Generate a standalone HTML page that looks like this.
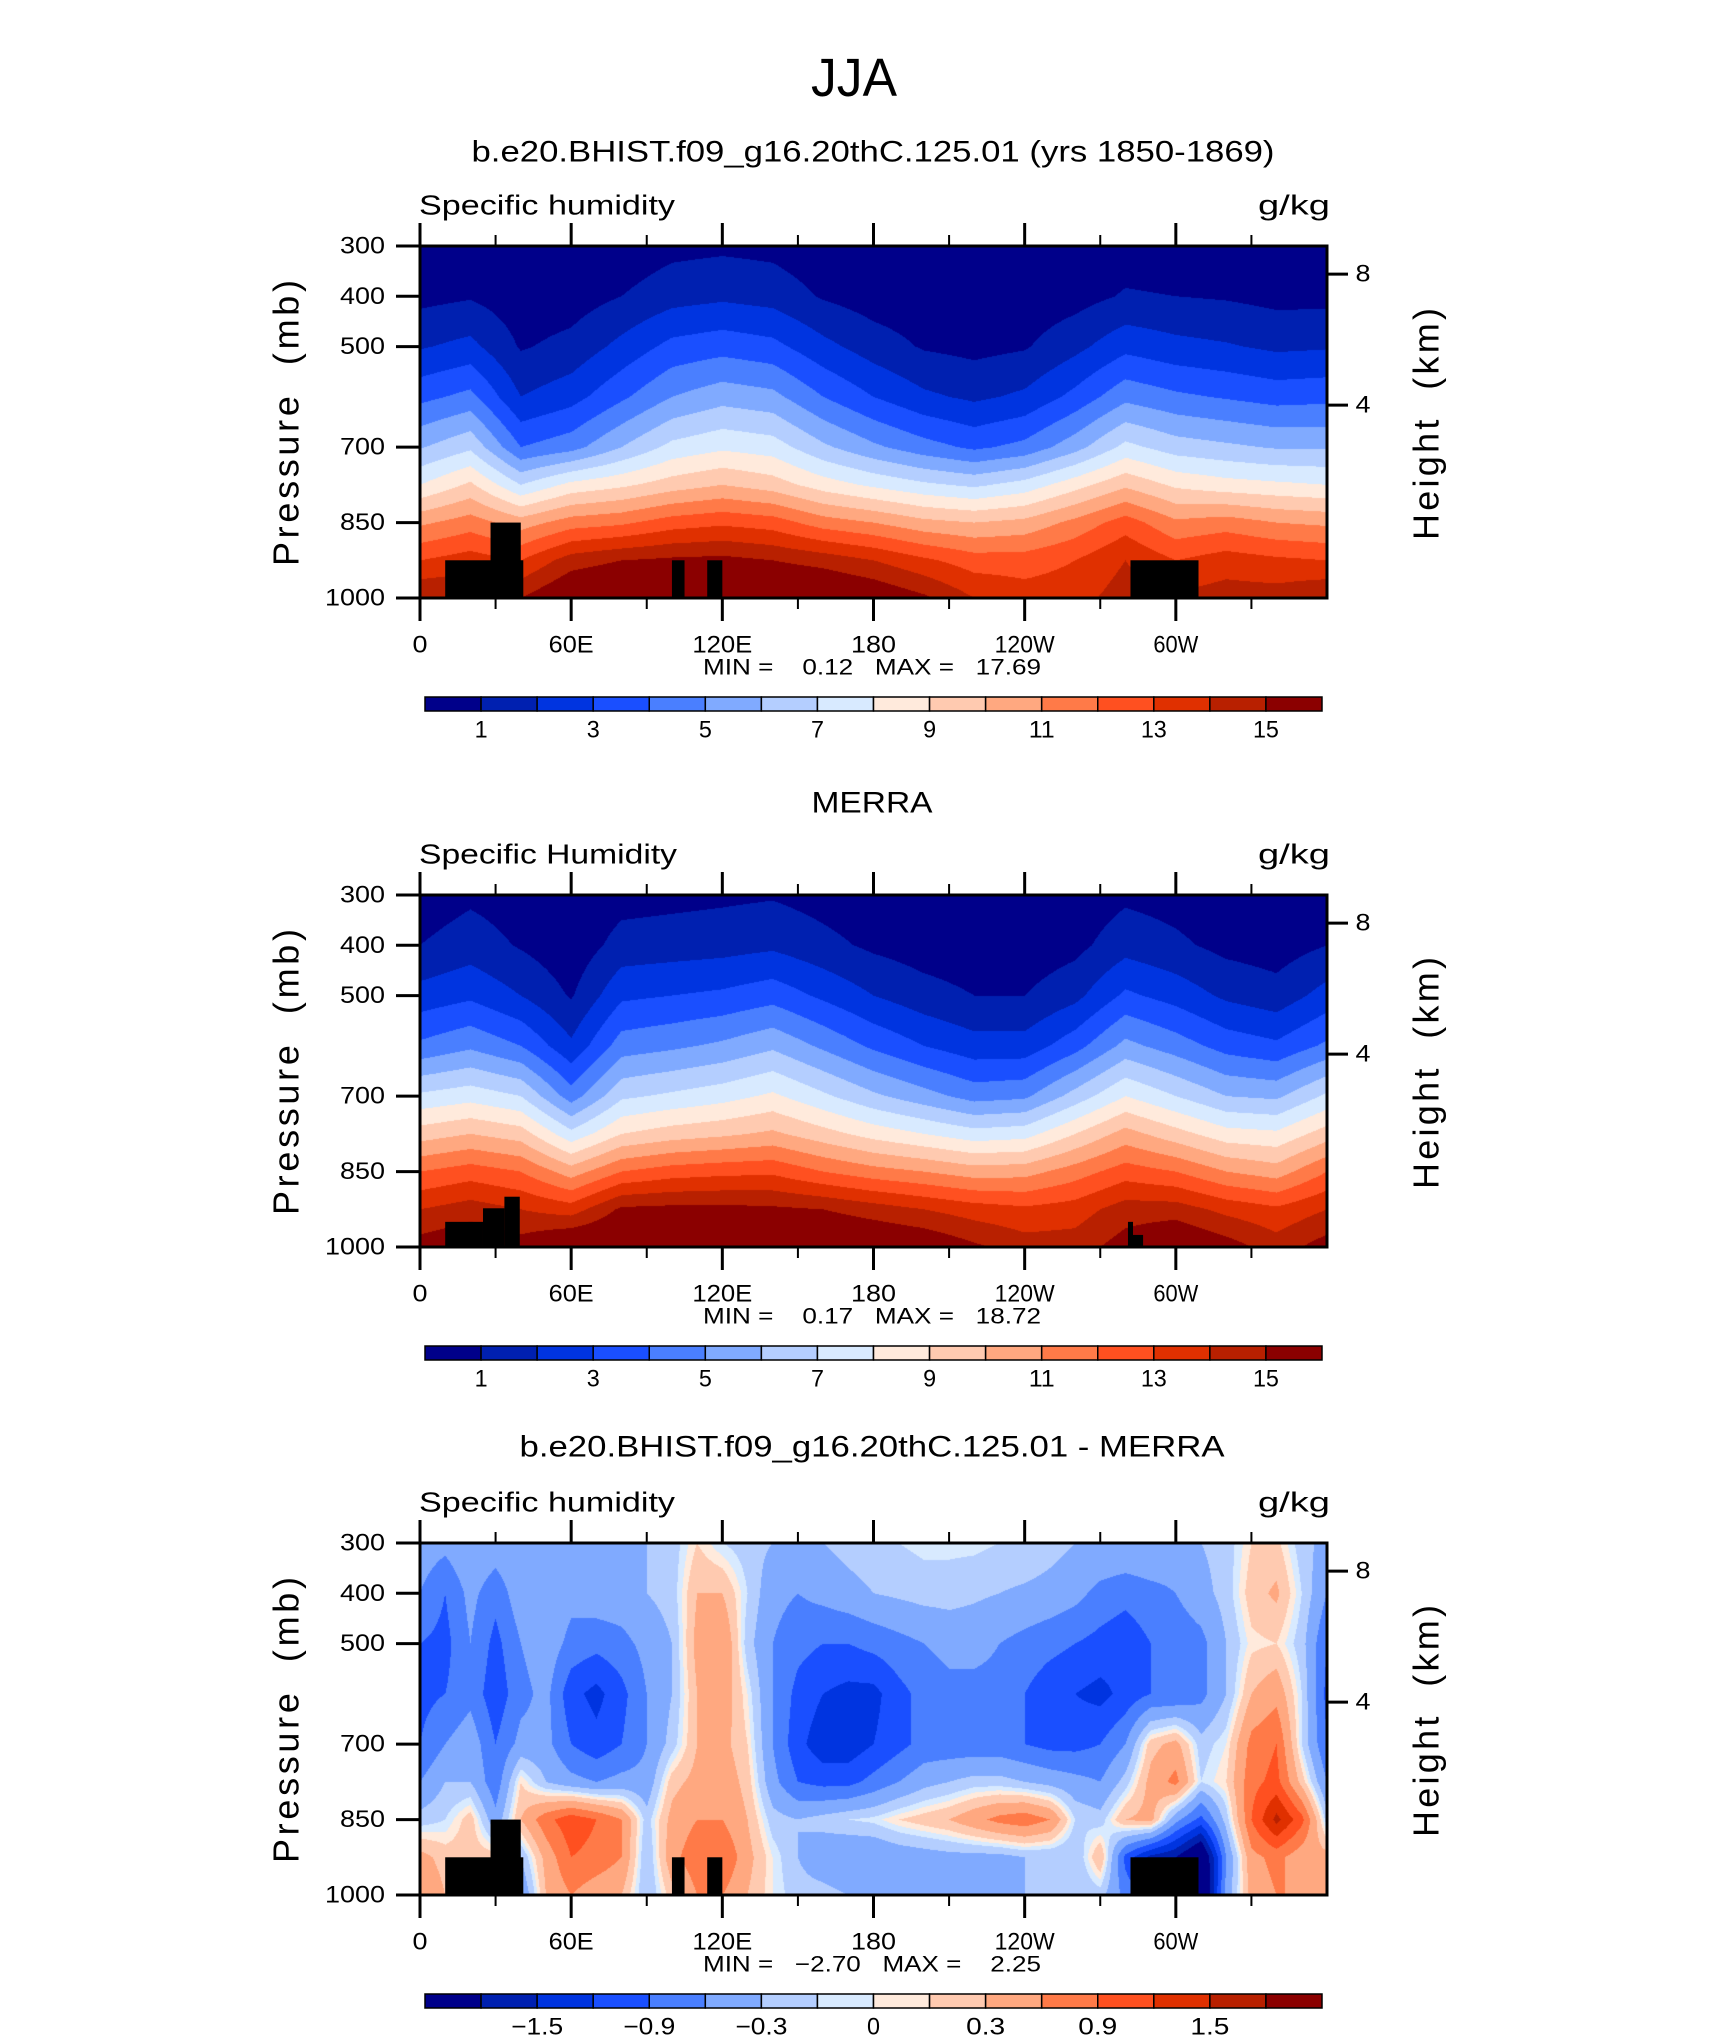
<!DOCTYPE html>
<html><head><meta charset="utf-8"><title>JJA Specific humidity</title>
<style>
html,body{margin:0;padding:0;background:#fff;}
body{width:1710px;height:2038px;position:relative;overflow:hidden;font-family:"Liberation Sans",sans-serif;}
canvas{position:absolute;}
svg{position:absolute;left:0;top:0;}
svg text{white-space:pre;}
</style></head>
<body>
<svg id="ov" width="1710" height="2038"></svg>
<script>
// ---------- data ----------
const pLevels=[300,400,500,600,700,775,850,925,1000];
const lonCols=[0,20,40,60,80,100,120,140,160,180,200,220,240,260,280,300,320,340,360];
// model specific humidity (g/kg), one row per longitude column, values at pLevels
const qModel=[
[0.4,0.7,1.9,3.7,5.9,8.0,10.8,13.0,15.0],
[0.5,0.9,2.3,4.3,6.8,9.2,11.5,13.5,15.0],
[0.2,0.4,0.9,2.0,4.0,7.0,10.5,13.0,15.0],
[0.2,0.5,1.3,2.6,4.6,8.3,11.5,14.5,16.3],
[0.3,1.0,2.3,3.8,6.0,8.8,11.8,15.0,16.6],
[0.7,1.6,3.3,5.0,7.3,9.5,12.5,15.2,16.7],
[0.8,1.8,3.6,5.6,7.8,10.0,12.8,15.3,16.8],
[0.7,1.6,3.3,5.3,7.5,9.5,12.5,15.0,16.6],
[0.3,0.9,2.3,4.0,6.2,8.5,11.5,14.6,16.5],
[0.2,0.5,1.5,3.0,5.2,7.8,11.0,14.0,16.0],
[0.15,0.35,0.9,2.2,4.4,7.2,10.3,13.2,15.2],
[0.12,0.3,0.7,1.8,3.8,6.8,10.0,12.5,14.0],
[0.15,0.35,0.9,2.2,4.3,7.4,10.3,12.5,13.5],
[0.3,0.6,1.7,3.3,5.6,8.6,11.3,13.0,13.6],
[0.5,1.1,2.7,4.7,7.3,9.8,12.5,14.0,14.5],
[0.4,1.0,2.3,4.2,6.5,8.8,11.2,13.0,14.2],
[0.3,0.9,2.1,3.9,6.2,8.4,11.5,13.5,14.5],
[0.3,0.7,1.8,3.6,5.9,8.2,11.0,13.2,14.5],
[0.4,0.7,1.9,3.7,5.9,8.0,10.8,13.0,15.0]];
// MERRA specific humidity (g/kg)
const qMerra=[
[0.4,1.0,2.4,4.2,7.2,9.5,12.0,14.0,15.5],
[0.8,1.5,2.8,4.8,7.6,10.0,12.5,14.5,16.0],
[0.5,0.9,2.0,4.0,7.0,9.5,12.0,14.0,15.5],
[0.1,0.3,0.9,2.2,4.5,7.3,10.5,13.5,16.5],
[0.6,1.4,2.8,4.5,6.8,9.0,12.0,15.2,16.5],
[0.7,1.5,3.0,4.8,7.2,9.5,12.5,15.3,16.7],
[0.8,1.6,3.2,5.2,7.6,9.8,12.7,15.3,16.7],
[0.9,1.8,3.6,5.8,8.2,10.2,12.8,15.2,16.6],
[0.6,1.3,2.8,4.8,7.2,9.4,12.0,15.0,16.5],
[0.3,0.8,2.0,3.8,6.2,8.6,11.4,14.5,16.3],
[0.15,0.5,1.4,3.0,5.4,8.0,11.0,14.0,16.0],
[0.1,0.35,1.0,2.4,4.6,7.4,10.5,13.5,15.2],
[0.1,0.35,1.0,2.4,4.8,7.6,10.6,13.2,14.5],
[0.3,0.7,1.7,3.6,6.4,9.0,11.5,13.5,14.5],
[0.8,1.6,3.2,5.3,8.0,10.4,12.5,14.5,15.5],
[0.6,1.2,2.6,4.5,7.0,9.4,12.0,14.5,16.3],
[0.3,0.7,1.8,3.6,6.0,8.4,11.0,13.7,15.5],
[0.2,0.5,1.4,3.2,5.8,8.2,10.5,13.2,14.5],
[0.4,1.0,2.4,4.2,7.2,9.5,12.0,14.0,15.5]];
// difference (g/kg), one row per pressure level, 10-degree longitude columns
const diffLon=[0,10,20,30,40,50,60,70,80,90,100,110,120,130,140,150,160,170,180,190,200,210,220,230,240,250,260,270,280,290,300,310,320,330,340,350,360];
const diffRows=[
[-0.4,-0.5,-0.3,-0.4,-0.3,-0.3,-0.3,-0.3,-0.3,-0.3,-0.2,0.1,-0.1,-0.2,-0.3,-0.3,-0.3,-0.2,-0.15,-0.1,-0.05,-0.05,-0.05,-0.1,-0.1,-0.2,-0.3,-0.3,-0.3,-0.3,-0.4,-0.3,-0.2,0.1,0.15,-0.2,-0.4],
[-0.6,-0.9,-0.5,-0.8,-0.4,-0.3,-0.5,-0.4,-0.4,-0.3,-0.2,0.3,0.3,-0.1,-0.5,-0.6,-0.5,-0.4,-0.3,-0.25,-0.2,-0.2,-0.25,-0.3,-0.35,-0.4,-0.5,-0.7,-0.8,-0.7,-0.6,-0.4,-0.2,0.2,0.35,-0.1,-0.6],
[-0.9,-1.0,-0.6,-1.0,-0.6,-0.4,-0.7,-0.8,-0.7,-0.5,-0.3,0.4,0.6,-0.2,-0.6,-0.8,-0.9,-0.9,-0.8,-0.7,-0.6,-0.5,-0.5,-0.6,-0.7,-0.8,-0.9,-1.0,-1.1,-0.9,-0.8,-0.7,-0.3,0.05,0.1,-0.2,-0.9],
[-1.0,-0.9,-0.7,-1.1,-0.7,-0.5,-1.1,-1.3,-1.0,-0.6,-0.3,0.3,0.5,0.0,-0.6,-1.0,-1.2,-1.3,-1.3,-1.0,-0.8,-0.7,-0.7,-0.7,-0.9,-1.1,-1.2,-1.3,-1.1,-0.9,-0.9,-0.7,-0.3,0.3,0.5,-0.1,-1.0],
[-0.9,-0.6,-0.4,-0.9,-0.5,-0.5,-0.9,-1.1,-0.9,-0.6,-0.2,0.3,0.4,0.1,-0.6,-1.1,-1.4,-1.4,-1.2,-1.0,-0.8,-0.8,-0.8,-0.8,-0.9,-1.0,-1.0,-0.9,-0.6,0.2,0.4,-0.2,0.0,0.7,0.9,-0.1,-0.9],
[-0.6,-0.3,-0.3,-0.8,0.1,-0.3,-0.5,-0.6,-0.5,-0.5,0.2,0.4,0.5,0.2,-0.5,-0.9,-1.0,-1.0,-0.8,-0.6,-0.4,-0.3,-0.2,-0.2,-0.3,-0.4,-0.5,-0.6,-0.2,0.4,0.7,-0.1,0.1,0.8,1.0,0.2,-0.6],
[-0.2,-0.1,0.2,-0.5,0.3,0.8,1.1,0.9,0.6,-0.2,0.4,0.6,0.6,0.3,-0.2,-0.3,-0.2,-0.1,-0.05,0.1,0.2,0.3,0.5,0.7,0.8,0.6,-0.1,-0.2,0.3,0.4,-0.5,-1.0,-0.2,0.9,1.6,1.0,-0.2],
[0.4,0.2,0.2,0.2,-0.3,0.4,0.9,0.8,0.6,-0.3,0.5,0.8,0.9,0.4,0.0,-0.3,-0.5,-0.6,-0.6,-0.5,-0.45,-0.4,-0.4,-0.4,-0.3,-0.3,-0.3,0.3,-1.0,-1.6,-1.8,-2.4,-0.6,0.5,0.7,0.4,0.4],
[0.6,0.3,0.3,0.3,-0.6,0.3,0.6,0.4,0.3,-0.3,0.2,0.6,0.6,0.3,0.0,-0.2,-0.2,-0.3,-0.4,-0.4,-0.4,-0.3,-0.3,-0.3,-0.3,-0.3,-0.3,-0.2,-0.7,-1.0,-1.5,-2.5,-0.5,0.4,0.6,0.6,0.6]];
// contour levels
const qLevels=[1,2,3,4,5,6,7,8,9,10,11,12,13,14,15];
const dLevels=[-1.8,-1.5,-1.2,-0.9,-0.6,-0.3,-0.1,0,0.1,0.3,0.6,0.9,1.2,1.5,1.8];
const qTickLabels=["1","3","5","7","9","11","13","15"];
const dTickLabels=["\u22121.5","\u22120.9","\u22120.3","0","0.3","0.9","1.5"];
const palette=["#00008a","#0020b0","#0034e0","#1a4fff","#4a7fff","#80aaff","#b4ceff","#d8eaff","#ffeadc","#ffcab0","#ffa880","#ff7a48","#ff5020","#e03000","#b82000","#8b0000"];
// topography mask (lon start, lon end, top pressure)
const landModelLon0=[10,28,100,114,282];
const landModelLon1=[41,40,105,120,309];
const landModelP=[925,850,925,925,925];
const landMerraLon0=[10,25,33.5,281,283];
const landMerraLon1=[25,33.5,39.6,283,287];
const landMerraP=[950,923,900,950,976];
// axes tick data
const pTicks=[300,400,500,700,850,1000];
const lonMajor=[0,60,120,180,240,300];
const lonMajorLabels=["0","60E","120E","180","120W","60W"];
const lonMinor=[30,90,150,210,270,330];
const heightTicksKm=[8,4];

// ---------- geometry ----------
const X0=420,W=907,H=352;
const tops=[246,895,1543];
const NS="http://www.w3.org/2000/svg";
const ov=document.getElementById('ov');
function xOf(lon){return X0+lon/360*W;}
function yOf(top,p){return top+(p-300)/700*H;}
function pOfHeight(km){return 1013.25*Math.pow(1-2.2557e-5*km*1000,5.2559);}
function el(tag,attrs,parent){const e=document.createElementNS(NS,tag);for(const k in attrs)e.setAttribute(k,attrs[k]);(parent||ov).appendChild(e);return e;}
function txt(s,x,y,size,opts){opts=opts||{};const t=el('text',{x:x,y:y,'font-size':size,'font-family':'"Liberation Sans",sans-serif','text-anchor':opts.anchor||'middle','dominant-baseline':'central',fill:'#000'});
 if(opts.len){t.setAttribute('textLength',opts.len);t.setAttribute('lengthAdjust',opts.adj||'spacingAndGlyphs');}
 if(opts.rot)t.setAttribute('transform','rotate(-90 '+x+' '+y+')');
 if(opts.weight)t.setAttribute('font-weight',opts.weight);
 t.textContent=s;return t;}

function findIdx(arr,v){let i=0;while(i<arr.length-2&&v>arr[i+1])i++;return i;}
function colorIdx(levels,v){let k=0;while(k<levels.length&&v>=levels[k]-1e-9)k++;return k;}
function hexToRgb(h){return [parseInt(h.substr(1,2),16),parseInt(h.substr(3,2),16),parseInt(h.substr(5,2),16)];}
const palRgb=palette.map(hexToRgb);

function drawField(top,getVal,levels,name){
 const c=document.createElement('canvas');c.width=W;c.height=H;c.style.left=X0+'px';c.style.top=top+'px';
 
 
 document.body.insertBefore(c,ov);
 const ctx=c.getContext('2d');const img=ctx.createImageData(W,H);
 for(let y=0;y<H;y++){const p=300+(y+0.5)/H*700;
  for(let x=0;x<W;x++){const lon=(x+0.5)/W*360;const v=getVal(lon,p);const rgb=palRgb[colorIdx(levels,v)];
   const o=(y*W+x)*4;img.data[o]=rgb[0];img.data[o+1]=rgb[1];img.data[o+2]=rgb[2];img.data[o+3]=255;}}
 ctx.putImageData(img,0,0);return ctx;}

function colGridVal(lons,cols){return function(lon,p){const i=findIdx(lons,lon);const j=findIdx(pLevels,p);
 const tx=(lon-lons[i])/(lons[i+1]-lons[i]);const ty=(p-pLevels[j])/(pLevels[j+1]-pLevels[j]);
 const a=cols[i][j],b=cols[i+1][j],c=cols[i][j+1],d=cols[i+1][j+1];
 return (a*(1-tx)+b*tx)*(1-ty)+(c*(1-tx)+d*tx)*ty;};}
function rowGridVal(lons,rows){return function(lon,p){const i=findIdx(lons,lon);const j=findIdx(pLevels,p);
 const tx=(lon-lons[i])/(lons[i+1]-lons[i]);const ty=(p-pLevels[j])/(pLevels[j+1]-pLevels[j]);
 const a=rows[j][i],b=rows[j][i+1],c=rows[j+1][i],d=rows[j+1][i+1];
 return (a*(1-tx)+b*tx)*(1-ty)+(c*(1-tx)+d*tx)*ty;};}

function drawLand(top,l0,l1,pt,name){
 for(let k=0;k<l0.length;k++){
  const r=el('rect',{x:xOf(l0[k]),y:yOf(top,pt[k]),width:xOf(l1[k])-xOf(l0[k]),height:yOf(top,1000)-yOf(top,pt[k]),fill:'#000'});
  
  
 }}

function drawAxes(top,idx,leftLabel,minmax,levels,tickLabels,tickVals){
 const g=el('g',{});
 
 
 const fr=el('rect',{x:X0,y:top,width:W,height:H,fill:'none',stroke:'#000','stroke-width':3},g);
 
 
 lonMajor.forEach((lon,k)=>{const x=xOf(lon);
  el('line',{x1:x,x2:x,y1:top+H,y2:top+H+23,stroke:'#000','stroke-width':3},g);
  el('line',{x1:x,x2:x,y1:top,y2:top-23,stroke:'#000','stroke-width':3},g);
  const t=txt(lonMajorLabels[k],x,top+H+47,24,{len:15*lonMajorLabels[k].length});
  
  });
 lonMinor.forEach(lon=>{const x=xOf(lon);
  el('line',{x1:x,x2:x,y1:top+H,y2:top+H+11,stroke:'#000','stroke-width':2},g);
  el('line',{x1:x,x2:x,y1:top,y2:top-11,stroke:'#000','stroke-width':2},g);});
 pTicks.forEach(p=>{const y=yOf(top,p);
  el('line',{x1:X0-24,x2:X0,y1:y,y2:y,stroke:'#000','stroke-width':3},g);
  const s=String(p);const t=txt(s,385,y,24,{anchor:'end',len:15*s.length});
  
  });
 heightTicksKm.forEach(km=>{const y=yOf(top,pOfHeight(km));
  el('line',{x1:X0+W,x2:X0+W+21,y1:y,y2:y,stroke:'#000','stroke-width':3},g);
  const t=txt(String(km),X0+W+36,y,24,{len:15});
  
  });
 const yl=txt('Pressure  (mb)',286,top+177,36,{rot:true,len:286,adj:'spacing'});
 
 
 const hl=txt('Height  (km)',1426,top+178,36,{rot:true,len:232,adj:'spacing'});
 
 
 const sl=txt(leftLabel,419,top-41,28,{anchor:'start',len:leftLabel==='Specific Humidity'?258:256});
 
 
 const ul=txt('g/kg',1330,top-41,28,{anchor:'end',len:72});
 
 
 const mm=txt(minmax,872,top+H+69,22,{len:338});
 
 
 // colorbar
 const cbX=425,cbW=897,cbY=top+H+99,cbH=14,n=palette.length,bw=cbW/n;
 for(let k=0;k<n;k++){const r=el('rect',{x:cbX+k*bw,y:cbY,width:bw,height:cbH,fill:palette[k],stroke:'#000','stroke-width':1.5},g);
  
  }
 tickVals.forEach((v,k)=>{const b=levels.indexOf(v);const x=cbX+(b+1)*bw;
  const s=tickLabels[k];const t=txt(s,x,cbY+33,24,{len:13*s.length});
  
  });
}

// ---------- render ----------
drawField(tops[0],colGridVal(lonCols,qModel),qLevels,'model-humidity-field');
drawField(tops[1],colGridVal(lonCols,qMerra),qLevels,'merra-humidity-field');
drawField(tops[2],rowGridVal(diffLon,diffRows),dLevels,'difference-field');
drawLand(tops[0],landModelLon0,landModelLon1,landModelP,'model-land-mask');
drawLand(tops[1],landMerraLon0,landMerraLon1,landMerraP,'merra-land-mask');
drawLand(tops[2],landModelLon0,landModelLon1,landModelP,'diff-land-mask');

const qTickVals=[1,3,5,7,9,11,13,15];
const dTickVals=[-1.5,-0.9,-0.3,0,0.3,0.9,1.5];
drawAxes(tops[0],1,'Specific humidity','MIN =    0.12   MAX =   17.69',qLevels,qTickLabels,qTickVals);
drawAxes(tops[1],2,'Specific Humidity','MIN =    0.17   MAX =   18.72',qLevels,qTickLabels,qTickVals);
drawAxes(tops[2],3,'Specific humidity','MIN =   \u22122.70   MAX =    2.25',dLevels,dTickLabels,dTickVals);

const mt=txt('JJA',854,78,54,{len:86});


const t1=txt('b.e20.BHIST.f09_g16.20thC.125.01 (yrs 1850-1869)',873,152,30,{len:803});


const t2=txt('MERRA',872,803,30,{len:121});


const t3=txt('b.e20.BHIST.f09_g16.20thC.125.01 - MERRA',872,1447,30,{len:705});


</script>
</body></html>
